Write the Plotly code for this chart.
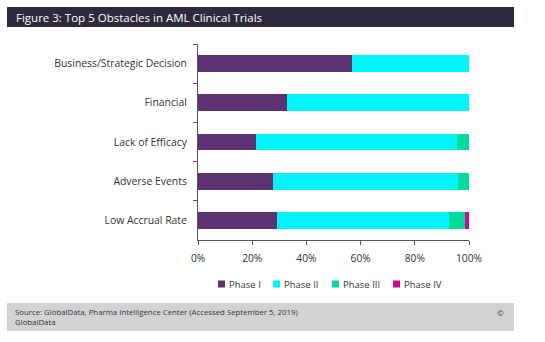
import plotly.graph_objects as go

categories = ["Business/Strategic Decision", "Financial", "Lack of Efficacy", "Adverse Events", "Low Accrual Rate"]
phase1 = [57.0, 33.0, 21.5, 27.7, 29.3]
phase2 = [43.0, 67.0, 74.1, 68.1, 63.4]
phase3 = [0.0, 0.0, 4.4, 4.2, 5.9]
phase4 = [0.0, 0.0, 0.0, 0.0, 1.4]
series_names = ["Phase I", "Phase II", "Phase III", "Phase IV"]
colors = ["#5C3370", "#00F4FA", "#00DB9E", "#CC0A8C"]
tick_vals = [0, 20, 40, 60, 80, 100]
tick_text = ["0%", "20%", "40%", "60%", "80%", "100%"]

FONT = "Open Sans"
W, H = 545, 342
L, R, T, B = 198, 76, 44, 102
PW, PH = W - L - R, H - T - B

def px(x):
    return (x - L) / PW

def py(y):
    return (H - B - y) / PH

fig = go.Figure()
for name, vals, col in zip(series_names, [phase1, phase2, phase3, phase4], colors):
    fig.add_trace(go.Bar(y=categories, x=vals, name=name, orientation="h",
                         marker=dict(color=col, line=dict(width=0))))

shapes = [
    dict(type="rect", xref="paper", yref="paper", x0=px(7), x1=px(514),
         y0=py(7), y1=py(27), fillcolor="#2E293C", line=dict(width=0), layer="below"),
    dict(type="rect", xref="paper", yref="paper", x0=px(7), x1=px(514),
         y0=py(303), y1=py(331), fillcolor="#D3D3D5", line=dict(width=0), layer="below"),
]
annotations = [
    dict(text="Figure 3: Top 5 Obstacles in AML Clinical Trials", xref="paper", yref="paper",
         x=px(14), y=py(17), xanchor="left", yanchor="middle", showarrow=False,
         font=dict(family=FONT, size=11.5, color="white")),
    dict(text="Source: GlobalData, Pharma Intelligence Center (Accessed September 5, 2019)<br>GlobalData",
         xref="paper", yref="paper", x=px(13), y=py(317), xanchor="left", yanchor="middle",
         align="left", showarrow=False, font=dict(family=FONT, size=7.8, color="#333333")),
    dict(text="©", xref="paper", yref="paper", x=px(500), y=py(312),
         xanchor="center", yanchor="middle", showarrow=False,
         font=dict(family=FONT, size=8, color="#333333")),
]

# manual compact legend (squares + labels)
legend_x = [218, 273, 332, 393]
for name, col, lx in zip(series_names, colors, legend_x):
    shapes.append(dict(type="rect", xref="paper", yref="paper", x0=px(lx), x1=px(lx + 7),
                       y0=py(280.5), y1=py(287.5), fillcolor=col, line=dict(width=0)))
    annotations.append(dict(text=name, xref="paper", yref="paper", x=px(lx + 9), y=py(284),
                            xanchor="left", yanchor="middle", showarrow=False,
                            font=dict(family=FONT, size=9.5, color="#333333")))

fig.update_layout(
    barmode="stack", bargap=0.57,
    width=W, height=H,
    margin=dict(l=L, r=R, t=T, b=B),
    plot_bgcolor="white", paper_bgcolor="white",
    font=dict(family=FONT, size=10, color="#333333"),
    showlegend=False,
    xaxis=dict(range=[0, 100], tickvals=tick_vals, ticktext=tick_text, showgrid=False,
               showline=True, linecolor="#555555", linewidth=1, ticks="outside",
               ticklen=4, tickcolor="#555555", zeroline=False, fixedrange=True,
               ticklabelstandoff=5,
               tickfont=dict(size=10.2, color="#333333")),
    yaxis=dict(autorange="reversed", showgrid=False, showline=True, linecolor="#555555",
               linewidth=1, ticks="outside", ticklen=4, tickcolor="#555555",
               tickson="boundaries", ticklabelstandoff=8,
               tickfont=dict(size=10.4, color="#333333")),
    shapes=shapes,
    annotations=annotations,
)
fig.write_html("out.html")
